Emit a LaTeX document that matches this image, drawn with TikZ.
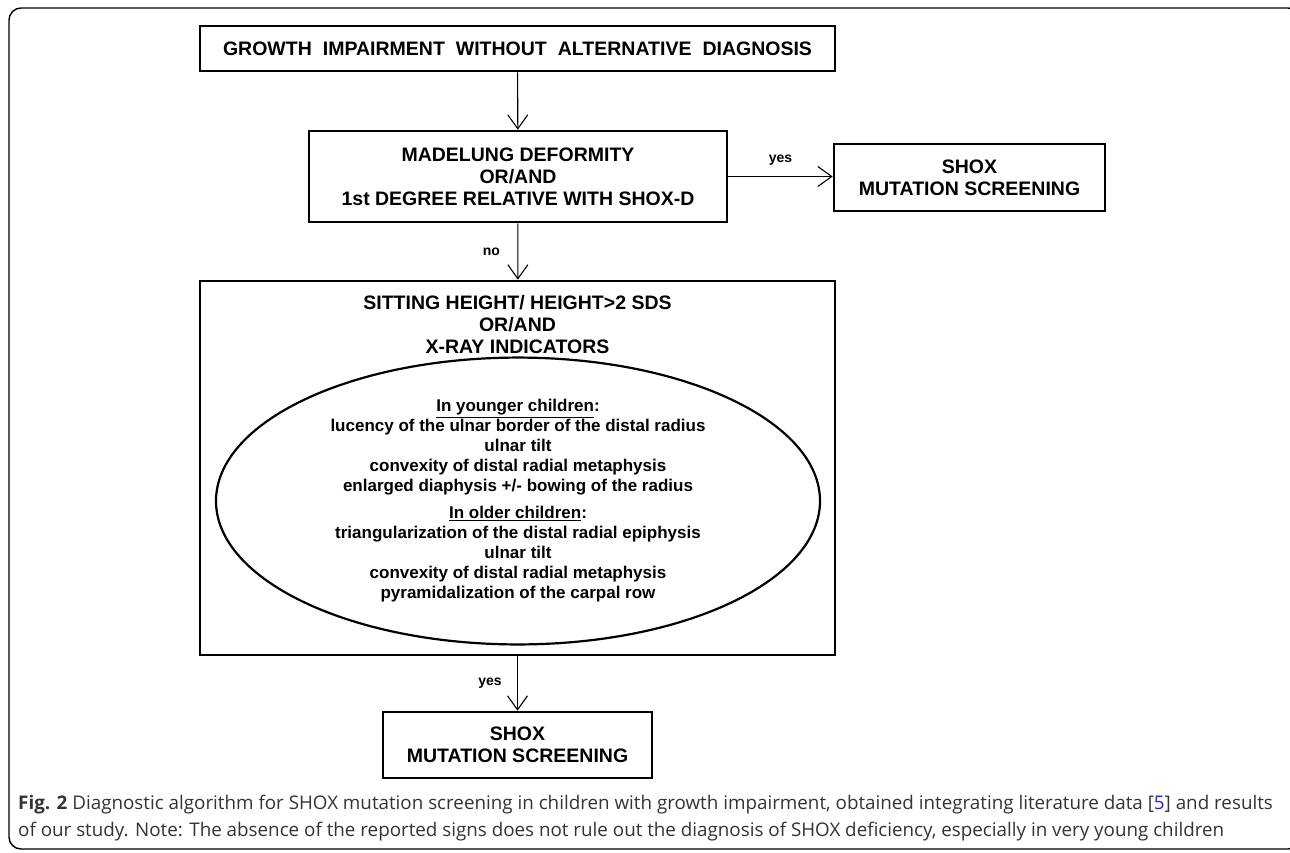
\documentclass[tikz,border=0pt]{standalone}
\usepackage{fontspec}
\setmainfont{Liberation Sans}
\newfontfamily\captionfont{Open Sans}
\usetikzlibrary{arrows.meta}
\usetikzlibrary{shapes.geometric}
\definecolor{captiongray}{HTML}{333333}
\definecolor{reflink}{HTML}{2424D8}

\begin{document}
\begin{tikzpicture}[x=1pt, y=-1pt,
  box/.style={shape=rectangle, draw, line width=2.6pt, inner sep=0pt, align=center, font=\fontsize{19.5}{22}\selectfont\bfseries},
  flow/.style={line width=1.1pt, -{Straight Barb[length=14pt,width=20pt]}},
  answer/.style={font=\fontsize{14}{16}\selectfont\bfseries}]
  \useasboundingbox (0,0) rectangle (1290,852);
  \draw [line width=1.4pt, rounded corners=12pt] (9,8) rectangle (1300,849);
  \path (517.5,48.5) node (growth) [box, minimum width=635pt, minimum height=45pt] {\spaceskip=11pt\relax GROWTH IMPAIRMENT WITHOUT ALTERNATIVE DIAGNOSIS};
  \path (518,176.5) node (madelung) [box, minimum width=418pt, minimum height=91pt] {MADELUNG DEFORMITY\\ OR/AND\\ 1st DEGREE RELATIVE WITH SHOX-D};
  \path (969.5,177.5) node (shoxa) [box, minimum width=271pt, minimum height=67pt] {SHOX\\ MUTATION SCREENING};
  \path (517.5,468) node (sitting) [box, minimum width=635pt, minimum height=374pt] {};
  \path (517.5,325) node (indicators) [align=center, font=\fontsize{19.5}{22}\selectfont\bfseries] {SITTING HEIGHT/ HEIGHT>2 SDS\\ OR/AND\\ X-RAY INDICATORS};
  \path (518,501) node (xray) [shape=ellipse, draw, line width=2.2pt, inner sep=0pt, minimum width=604pt, minimum height=258pt, align=center, font=\fontsize{17}{20}\selectfont\bfseries]
    {\underline{In younger children}:\\ lucency of the ulnar border of the distal radius\\ ulnar tilt\\ convexity of distal radial metaphysis\\ enlarged diaphysis +/- bowing of the radius\\[7pt]
     \underline{In older children}:\\ triangularization of the distal radial epiphysis\\ ulnar tilt\\ convexity of distal radial metaphysis\\ pyramidalization of the carpal row};
  \path (517.5,745) node (shoxb) [box, minimum width=269pt, minimum height=66pt] {SHOX\\ MUTATION SCREENING};
  \draw [flow] (growth) -- (madelung);
  \draw [flow] (madelung.east) -- (shoxa.west |- madelung.east) node [answer, midway, above=7pt] {yes};
  \draw [flow] (madelung) -- (sitting) node [answer, midway, left=14pt] {no};
  \draw [flow] (sitting) -- (shoxb) node [answer, midway, left=12pt] {yes};
  \path (18,805) node (caption) [anchor=west, inner sep=0pt, text=captiongray, font=\captionfont\fontsize{18.8}{22}\selectfont] {\textbf{Fig. 2} Diagnostic algorithm for SHOX mutation screening in children with growth impairment, obtained integrating literature data [\textcolor{reflink}{5}] and results};
  \path (18,832) node (note) [anchor=west, inner sep=0pt, text=captiongray, font=\captionfont\fontsize{18.8}{22}\selectfont] {of our study. Note: The absence of the reported signs does not rule out the diagnosis of SHOX deficiency, especially in very young children};
\end{tikzpicture}
\end{document}
